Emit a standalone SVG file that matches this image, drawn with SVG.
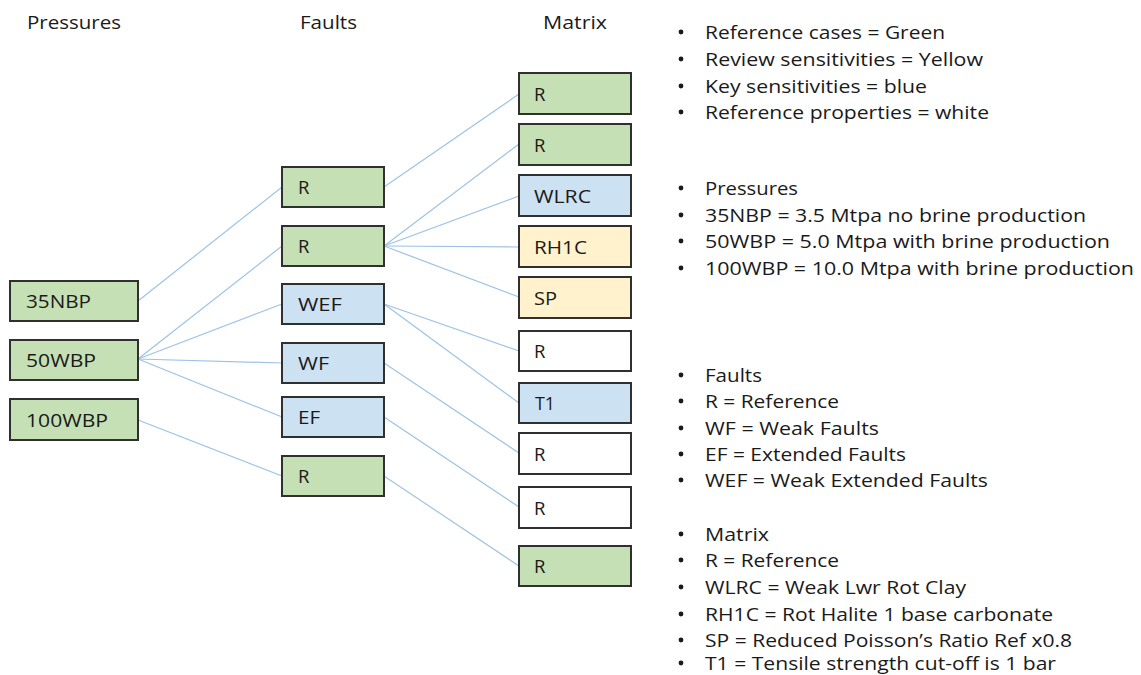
<svg xmlns="http://www.w3.org/2000/svg" width="1141" height="675" viewBox="0 0 1141 675">
  <style>
    text { font-family: "Open Sans", "Noto Sans", "Liberation Sans", sans-serif; font-size: 18.5px; fill: #1a1a1a; }
    .box { stroke: #303030; stroke-width: 2; }
    .green { fill: #c5e0b4; }
    .blue { fill: #cce1f2; }
    .yellow { fill: #fff2cc; }
    .white { fill: #ffffff; }
    .link { stroke: #9dc3e6; stroke-width: 1.2; fill: none; }
    .bullet { fill: #1a1a1a; }
  </style>

  <rect width="1141" height="675" fill="#ffffff"/>

  <!-- column headings -->
  <g id="headings">
    <text x="27" y="29" textLength="94" lengthAdjust="spacingAndGlyphs">Pressures</text>
    <text x="300" y="29" textLength="57" lengthAdjust="spacingAndGlyphs">Faults</text>
    <text x="543" y="29" textLength="64" lengthAdjust="spacingAndGlyphs">Matrix</text>
  </g>

  <!-- connectors -->
  <g id="connectors">
    <line class="link" x1="138" y1="301" x2="282" y2="187"/>
    <line class="link" x1="138" y1="359" x2="282" y2="246"/>
    <line class="link" x1="138" y1="359" x2="282" y2="304"/>
    <line class="link" x1="138" y1="359" x2="282" y2="363"/>
    <line class="link" x1="138" y1="359" x2="282" y2="417"/>
    <line class="link" x1="138" y1="420" x2="282" y2="476"/>

    <line class="link" x1="384" y1="187" x2="519" y2="94"/>
    <line class="link" x1="384" y1="246" x2="519" y2="144"/>
    <line class="link" x1="384" y1="246" x2="519" y2="196"/>
    <line class="link" x1="384" y1="246" x2="519" y2="247"/>
    <line class="link" x1="384" y1="246" x2="519" y2="297"/>
    <line class="link" x1="384" y1="304" x2="519" y2="351"/>
    <line class="link" x1="384" y1="304" x2="519" y2="403"/>
    <line class="link" x1="384" y1="363" x2="519" y2="453"/>
    <line class="link" x1="384" y1="417" x2="519" y2="507"/>
    <line class="link" x1="384" y1="476" x2="519" y2="566"/>
  </g>

  <!-- pressures -->
  <g id="p-35nbp">
    <rect class="box green" x="10" y="281" width="128" height="40"/>
    <text x="26" y="308" textLength="65" lengthAdjust="spacingAndGlyphs">35NBP</text>
  </g>
  <g id="p-50wbp">
    <rect class="box green" x="10" y="340" width="128" height="40"/>
    <text x="26" y="367" textLength="70" lengthAdjust="spacingAndGlyphs">50WBP</text>
  </g>
  <g id="p-100wbp">
    <rect class="box green" x="10" y="399" width="128" height="41"/>
    <text x="26" y="427" textLength="82" lengthAdjust="spacingAndGlyphs">100WBP</text>
  </g>

  <!-- faults -->
  <g id="f-r1">
    <rect class="box green" x="282" y="167" width="102" height="40"/>
    <text x="298" y="194">R</text>
  </g>
  <g id="f-r2">
    <rect class="box green" x="282" y="226" width="102" height="40"/>
    <text x="298" y="253">R</text>
  </g>
  <g id="f-wef">
    <rect class="box blue" x="282" y="284" width="102" height="40"/>
    <text x="298" y="311" textLength="44" lengthAdjust="spacingAndGlyphs">WEF</text>
  </g>
  <g id="f-wf">
    <rect class="box blue" x="282" y="343" width="102" height="40"/>
    <text x="298" y="370" textLength="31" lengthAdjust="spacingAndGlyphs">WF</text>
  </g>
  <g id="f-ef">
    <rect class="box blue" x="282" y="397" width="102" height="40"/>
    <text x="298" y="424" textLength="22" lengthAdjust="spacingAndGlyphs">EF</text>
  </g>
  <g id="f-r3">
    <rect class="box green" x="282" y="456" width="102" height="40"/>
    <text x="298" y="483">R</text>
  </g>

  <!-- matrix -->
  <g id="m-r1">
    <rect class="box green" x="519" y="73" width="112" height="41"/>
    <text x="534" y="101">R</text>
  </g>
  <g id="m-r2">
    <rect class="box green" x="519" y="124" width="112" height="41"/>
    <text x="534" y="152">R</text>
  </g>
  <g id="m-wlrc">
    <rect class="box blue" x="519" y="175" width="112" height="41"/>
    <text x="534" y="203" textLength="57" lengthAdjust="spacingAndGlyphs">WLRC</text>
  </g>
  <g id="m-rh1c">
    <rect class="box yellow" x="519" y="226" width="112" height="41"/>
    <text x="534" y="254" textLength="53" lengthAdjust="spacingAndGlyphs">RH1C</text>
  </g>
  <g id="m-sp">
    <rect class="box yellow" x="519" y="277" width="112" height="41"/>
    <text x="534" y="305" textLength="23" lengthAdjust="spacingAndGlyphs">SP</text>
  </g>
  <g id="m-r3">
    <rect class="box white" x="519" y="331" width="112" height="40"/>
    <text x="534" y="358">R</text>
  </g>
  <g id="m-t1">
    <rect class="box blue" x="519" y="383" width="112" height="40"/>
    <text x="535" y="410" textLength="20" lengthAdjust="spacingAndGlyphs">T1</text>
  </g>
  <g id="m-r4">
    <rect class="box white" x="519" y="433" width="112" height="41"/>
    <text x="534" y="461">R</text>
  </g>
  <g id="m-r5">
    <rect class="box white" x="519" y="487" width="112" height="41"/>
    <text x="534" y="515">R</text>
  </g>
  <g id="m-r6">
    <rect class="box green" x="519" y="546" width="112" height="40"/>
    <text x="534" y="573">R</text>
  </g>

  <!-- key -->
  <g id="key">
    <circle class="bullet" cx="681" cy="32" r="2.4"/>
    <text x="705" y="39" textLength="240" lengthAdjust="spacingAndGlyphs">Reference cases = Green</text>
    <circle class="bullet" cx="681" cy="59" r="2.4"/>
    <text x="705" y="66" textLength="278" lengthAdjust="spacingAndGlyphs">Review sensitivities = Yellow</text>
    <circle class="bullet" cx="681" cy="86" r="2.4"/>
    <text x="705" y="93" textLength="222" lengthAdjust="spacingAndGlyphs">Key sensitivities = blue</text>
    <circle class="bullet" cx="681" cy="112" r="2.4"/>
    <text x="705" y="119" textLength="284" lengthAdjust="spacingAndGlyphs">Reference properties = white</text>

    <circle class="bullet" cx="681" cy="188" r="2.4"/>
    <text x="705" y="195" textLength="93" lengthAdjust="spacingAndGlyphs">Pressures</text>
    <circle class="bullet" cx="681" cy="215" r="2.4"/>
    <text x="705" y="222" textLength="381" lengthAdjust="spacingAndGlyphs">35NBP = 3.5 Mtpa no brine production</text>
    <circle class="bullet" cx="681" cy="241" r="2.4"/>
    <text x="705" y="248" textLength="405" lengthAdjust="spacingAndGlyphs">50WBP = 5.0 Mtpa with brine production</text>
    <circle class="bullet" cx="681" cy="268" r="2.4"/>
    <text x="705" y="275" textLength="429" lengthAdjust="spacingAndGlyphs">100WBP = 10.0 Mtpa with brine production</text>

    <circle class="bullet" cx="681" cy="375" r="2.4"/>
    <text x="705" y="382" textLength="57" lengthAdjust="spacingAndGlyphs">Faults</text>
    <circle class="bullet" cx="681" cy="401" r="2.4"/>
    <text x="705" y="408" textLength="134" lengthAdjust="spacingAndGlyphs">R = Reference</text>
    <circle class="bullet" cx="681" cy="428" r="2.4"/>
    <text x="705" y="435" textLength="174" lengthAdjust="spacingAndGlyphs">WF = Weak Faults</text>
    <circle class="bullet" cx="681" cy="454" r="2.4"/>
    <text x="705" y="461" textLength="201" lengthAdjust="spacingAndGlyphs">EF = Extended Faults</text>
    <circle class="bullet" cx="681" cy="480" r="2.4"/>
    <text x="705" y="487" textLength="283" lengthAdjust="spacingAndGlyphs">WEF = Weak Extended Faults</text>

    <circle class="bullet" cx="681" cy="534" r="2.4"/>
    <text x="705" y="541" textLength="64" lengthAdjust="spacingAndGlyphs">Matrix</text>
    <circle class="bullet" cx="681" cy="560" r="2.4"/>
    <text x="705" y="567" textLength="134" lengthAdjust="spacingAndGlyphs">R = Reference</text>
    <circle class="bullet" cx="681" cy="587" r="2.4"/>
    <text x="705" y="594" textLength="261" lengthAdjust="spacingAndGlyphs">WLRC = Weak Lwr Rot Clay</text>
    <circle class="bullet" cx="681" cy="614" r="2.4"/>
    <text x="705" y="621" textLength="348" lengthAdjust="spacingAndGlyphs">RH1C = Rot Halite 1 base carbonate</text>
    <circle class="bullet" cx="681" cy="640" r="2.4"/>
    <text x="705" y="647" textLength="367" lengthAdjust="spacingAndGlyphs">SP = Reduced Poisson’s Ratio Ref x0.8</text>
    <circle class="bullet" cx="681" cy="663" r="2.4"/>
    <text x="705" y="670" textLength="351" lengthAdjust="spacingAndGlyphs">T1 = Tensile strength cut-off is 1 bar</text>
  </g>
</svg>
